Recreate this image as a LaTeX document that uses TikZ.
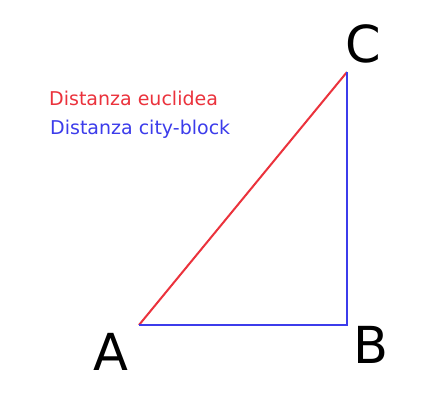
\documentclass[tikz,border=0pt]{standalone}
\usepackage{fontspec}
\setmainfont{DejaVu Sans}
\definecolor{eucl}{RGB}{235,50,60}
\definecolor{city}{RGB}{60,60,235}
\begin{document}
\begin{tikzpicture}[x=1pt,y=-1pt,
  pt/.style={inner sep=0pt,minimum size=0pt},
  vlabel/.style={font=\fontsize{51}{51}\selectfont,inner sep=0pt},
  legend/.style={font=\fontsize{19}{19}\selectfont,anchor=base west,inner sep=0pt},
  seg/.style={line width=2pt}]
\useasboundingbox (0,0) rectangle (448,392);
\fill[white] (0,0) rectangle (448,392);
\coordinate (A) at (139,325);
\coordinate (B) at (347,325);
\coordinate (C) at (347,72);
\draw[seg,eucl] (A) -- (C);
\draw[seg,city] (A) -- (B) -- (C);
\node[vlabel] (la) at (111,352) {A};
\node[vlabel] (lb) at (371,345) {B};
\node[vlabel] (lc) at (363,44) {C};
\node[legend,text=eucl] (le) at (49,105) {Distanza euclidea};
\node[legend,text=city] (lcb) at (50,134) {Distanza city-block};
\end{tikzpicture}
\end{document}
